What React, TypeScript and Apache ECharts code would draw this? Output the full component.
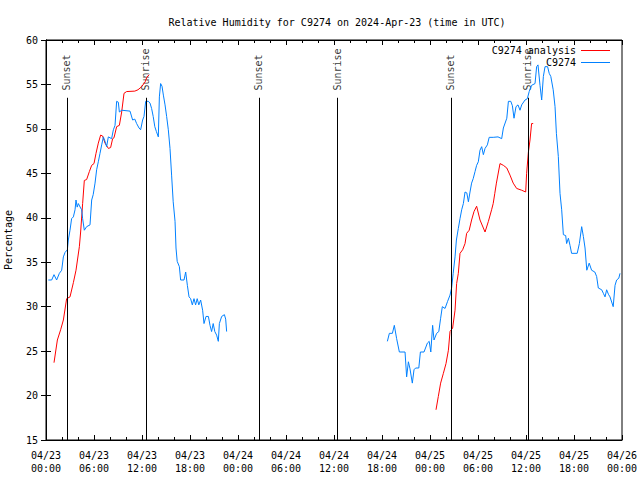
import React, { useEffect, useRef } from "react";
import * as echarts from "echarts";

// Hours since 2024-04-23 00:00 UTC
const RED_HOURS_1 = [1.0, 1.42, 1.83, 2.17, 2.58, 3.0, 3.42, 3.75, 4.17, 4.33, 4.58, 4.79, 5.08, 5.42, 5.71, 6.0, 6.25, 6.54, 6.83, 7.08, 7.38, 7.8, 8.08, 8.33, 8.5, 8.83, 9.17, 9.46, 9.75, 10.08, 11.1, 11.5, 11.96, 12.4, 12.6, 12.9];
const RED_VALUES_1 = [23.7, 26.25, 27.4, 28.5, 30.9, 31.1, 32.7, 34.1, 36.75, 38.4, 41.6, 44.2, 44.3, 45.2, 45.9, 46.1, 47.25, 48.4, 49.3, 49.2, 48.4, 47.8, 47.9, 48.9, 49.0, 50.25, 50.4, 51.9, 54.0, 54.2, 54.25, 54.4, 54.75, 55.3, 55.8, 56.1];
const RED_HOURS_2 = [48.75, 49.04, 49.33, 49.67, 50.0, 50.3, 50.5, 50.83, 51.13, 51.33, 51.54, 51.75, 52.08, 52.38, 52.58, 52.9, 53.2, 53.5, 53.83, 54.25, 54.88, 55.3, 55.7, 55.9, 56.1, 56.3, 56.75, 57.17, 57.6, 58.0, 58.4, 58.83, 59.46, 59.96, 60.08, 60.3, 60.5, 60.7, 60.9];
const RED_VALUES_2 = [18.4, 19.9, 21.4, 22.5, 23.6, 25.1, 27.2, 27.6, 29.6, 32.6, 33.75, 36.0, 36.4, 37.1, 38.25, 38.6, 39.75, 40.7, 41.3, 39.75, 38.4, 39.6, 40.9, 41.6, 42.75, 43.9, 46.1, 45.9, 45.6, 44.8, 43.9, 43.3, 43.1, 42.9, 45.0, 47.4, 48.75, 50.6, 50.6];

const BLUE_HOURS_1 = [0.29, 0.71, 1.0, 1.33, 1.67, 1.96, 2.17, 2.38, 2.67, 2.79, 3.0, 3.2, 3.42, 3.63, 3.75, 3.9, 4.04, 4.33, 4.46, 4.58, 4.79, 5.08, 5.5, 5.71, 5.9, 6.13, 6.33, 6.54, 6.75, 6.96, 7.17, 7.38, 7.58, 7.79, 8.2, 8.42, 8.63, 8.83, 9.04, 9.17, 9.46, 10.5, 10.83, 11.1, 11.33, 11.63, 11.83, 12.08, 12.25, 12.46, 12.8, 13.0, 13.2, 13.4, 13.6, 13.8, 14.04, 14.17, 14.33, 14.5, 14.67, 14.88, 15.08, 15.29, 15.5, 15.7, 15.9, 16.13, 16.25, 16.4, 16.67, 16.83, 17.25, 17.46, 17.67, 17.88, 18.08, 18.29, 18.5, 18.7, 18.9, 19.1, 19.33, 19.58, 19.75, 20.0, 20.3, 20.5, 20.7, 20.9, 21.1, 21.33, 21.54, 21.67, 21.96, 22.3, 22.46, 22.58];
const BLUE_VALUES_1 = [33.0, 33.0, 33.6, 33.0, 33.75, 34.1, 35.6, 36.1, 36.4, 37.5, 38.6, 39.9, 40.1, 40.9, 42.0, 41.2, 41.6, 41.1, 40.9, 39.9, 38.6, 39.0, 39.2, 42.0, 42.6, 43.9, 45.4, 46.3, 47.25, 48.2, 49.1, 48.6, 48.0, 49.1, 48.9, 49.9, 50.4, 53.1, 53.0, 51.9, 52.1, 52.0, 51.0, 51.1, 50.6, 50.1, 49.9, 51.0, 51.4, 53.1, 53.1, 52.9, 52.3, 51.4, 50.25, 49.7, 49.1, 53.6, 55.1, 54.8, 53.8, 52.7, 51.4, 49.9, 47.8, 44.8, 41.8, 39.6, 36.6, 35.1, 34.5, 33.0, 33.0, 33.9, 32.4, 31.1, 30.9, 30.2, 30.9, 30.2, 30.9, 30.2, 30.75, 29.6, 28.1, 28.9, 28.9, 27.9, 27.2, 28.1, 27.2, 26.8, 26.1, 28.1, 28.9, 29.1, 28.6, 27.2];
const BLUE_HOURS_2 = [42.67, 42.92, 43.3, 43.54, 43.83, 44.17, 44.88, 45.08, 45.3, 45.5, 45.79, 46.0, 46.2, 46.6, 46.8, 47.25, 47.67, 47.9, 48.1, 48.33, 48.5, 48.83, 49.1, 49.33, 49.54, 49.88, 50.2, 50.5, 50.7, 50.9, 51.13, 51.3, 51.54, 51.75, 51.96, 52.17, 52.38, 52.6, 52.8, 53.0, 53.2, 53.4, 53.63, 53.83, 54.04, 54.25, 54.46, 54.67, 54.88, 55.17, 55.4, 55.9, 56.5, 56.96, 57.17, 57.6, 57.8, 58.1, 58.3, 58.5, 58.75, 59.0, 59.25, 59.46, 59.88, 60.17, 60.4, 60.7, 61.13, 61.33, 61.5, 61.75, 61.96, 62.17, 62.38, 62.7, 62.9, 63.1, 63.4, 63.63, 63.8, 64.04, 64.25, 64.46, 64.67, 64.96, 65.08, 65.3, 65.5, 65.7, 66.4, 66.67, 66.96, 67.17, 67.38, 67.6, 67.9, 68.2, 68.6, 68.83, 69.04, 69.46, 69.67, 69.88, 70.08, 70.3, 70.5, 70.9, 71.13, 71.33, 71.6, 71.75];
const BLUE_VALUES_2 = [26.1, 27.0, 27.0, 27.9, 26.4, 24.9, 24.9, 22.1, 23.8, 23.0, 21.4, 22.9, 23.1, 23.1, 24.9, 24.9, 25.9, 26.1, 24.9, 27.9, 26.25, 27.0, 27.2, 28.7, 30.0, 29.8, 30.6, 31.3, 32.1, 33.75, 35.6, 37.5, 38.8, 39.9, 40.9, 41.6, 42.9, 42.8, 41.8, 42.9, 43.9, 44.4, 45.2, 45.9, 46.3, 47.6, 48.0, 47.1, 47.8, 48.2, 49.05, 49.05, 49.1, 48.9, 50.1, 51.2, 53.1, 53.1, 52.6, 51.2, 52.5, 52.7, 52.1, 52.7, 53.25, 53.4, 54.2, 54.9, 55.1, 57.0, 57.2, 54.9, 53.25, 55.9, 57.0, 57.0, 56.25, 55.9, 54.4, 52.5, 49.5, 46.9, 42.75, 40.9, 38.1, 38.0, 37.1, 37.7, 36.9, 36.0, 36.0, 37.1, 39.0, 37.9, 36.6, 34.1, 34.9, 34.1, 33.9, 33.4, 32.1, 31.9, 31.5, 31.1, 31.9, 31.4, 31.1, 30.0, 32.4, 33.0, 33.2, 33.75];

const SUN_HOURS = [2.65, 12.5, 26.65, 36.45, 50.65, 60.3];
const SUN_LABELS = ["Sunset", "Sunrise", "Sunset", "Sunrise", "Sunset", "Sunrise"];

const X_MIN = 0;
const X_MAX = 72;
const X_STEP = 6;
const Y_MIN = 15;
const Y_MAX = 60;
const Y_STEP = 5;
const SUN_LINE_TOP = 53.5;
const SUN_LABEL_BASE = 54.15;

const FONT = "DejaVu Sans Mono";

const zip = (h: number[], v: number[]) => h.map((x, i) => [x, v[i]]);
const joinSegments = (a: any[], b: any[]) => {
  const gap = (a[a.length - 1][0] + b[0][0]) / 2;
  return [...a, [gap, "-"], ...b];
};

const xLabel = (h: number) => {
  const day = 23 + Math.floor(h / 24);
  const hh = Math.round(h % 24);
  return `04/${day}\n${String(hh).padStart(2, "0")}:00`;
};

export default function App() {
  const ref = useRef<HTMLDivElement>(null);
  useEffect(() => {
    if (!ref.current) return;
    const chart = echarts.init(ref.current, null, { renderer: "svg" });
    const tickCommon = {
      axisLine: { show: true, lineStyle: { color: "#000", width: 1 } },
      splitLine: { show: false },
    };
    const legendCommon = {
      align: "right",
      icon: "rect",
      itemWidth: 29,
      itemHeight: 1,
      padding: 0,
      right: 30,
      textStyle: { fontFamily: FONT, fontSize: 10, color: "#000" },
    };
    chart.setOption({
      animation: false,
      backgroundColor: "#fff",
      title: {
        text: "Relative Humidity for C9274 on 2024-Apr-23 (time in UTC)",
        left: 332,
        top: 12,
        textAlign: "center",
        textStyle: { fontFamily: FONT, fontSize: 10, fontWeight: "normal", color: "#000" },
      },
      legend: [
        { ...legendCommon, data: ["C9274 analysis"], top: 45.5 },
        { ...legendCommon, data: ["C9274"], top: 57.5 },
      ],
      grid: {
        left: 46,
        right: 18,
        top: 40,
        bottom: 40,
        show: true,
        borderColor: "#000",
        borderWidth: 1,
        containLabel: false,
        outerBoundsMode: "none",
      },
      xAxis: [
        {
          type: "value",
          position: "bottom",
          min: X_MIN,
          max: X_MAX,
          interval: X_STEP,
          ...tickCommon,
          axisTick: { show: true, inside: true, length: 5, lineStyle: { color: "#000" } },
          minorTick: { show: true, splitNumber: 3, length: 3, lineStyle: { color: "#000" } },
          axisLabel: {
            formatter: xLabel,
            fontFamily: FONT,
            fontSize: 10,
            color: "#000",
            margin: 9,
            lineHeight: 13,
          },
        },
        {
          type: "value",
          position: "top",
          min: X_MIN,
          max: X_MAX,
          interval: X_STEP,
          ...tickCommon,
          axisTick: { show: true, inside: true, length: 5, lineStyle: { color: "#000" } },
          minorTick: { show: true, splitNumber: 3, length: 3, lineStyle: { color: "#000" } },
          axisLabel: { show: false },
        },
      ],
      yAxis: [
        {
          type: "value",
          position: "left",
          min: Y_MIN,
          max: Y_MAX,
          interval: Y_STEP,
          ...tickCommon,
          axisTick: { show: true, inside: true, length: 5, lineStyle: { color: "#000" } },
          axisLabel: { fontFamily: FONT, fontSize: 10, color: "#000", margin: 8 },
          name: "Percentage",
          nameLocation: "middle",
          nameRotate: 90,
          nameGap: 33,
          nameTextStyle: { fontFamily: FONT, fontSize: 10, color: "#000" },
        },
        {
          type: "value",
          position: "right",
          min: Y_MIN,
          max: Y_MAX,
          interval: Y_STEP,
          ...tickCommon,
          axisTick: { show: true, inside: true, length: 5, lineStyle: { color: "#000" } },
          axisLabel: { show: false },
        },
      ],
      series: [
        {
          name: "sun",
          type: "scatter",
          symbolSize: 1,
          itemStyle: { color: "rgba(0,0,0,0)" },
          silent: true,
          data: SUN_HOURS.map((h) => [h, SUN_LABEL_BASE]),
          label: {
            show: true,
            position: [0, 0],
            rotate: 90,
            align: "left",
            verticalAlign: "middle",
            offset: [1, 0],
            fontFamily: FONT,
            fontSize: 10,
            color: "#000",
            formatter: (p: any) => SUN_LABELS[p.dataIndex],
          },
          markLine: {
            silent: true,
            symbol: ["none", "none"],
            label: { show: false },
            lineStyle: { color: "#000", width: 1, type: "solid" },
            data: SUN_HOURS.map((h) => [{ coord: [h, Y_MIN] }, { coord: [h, SUN_LINE_TOP] }]),
          },
          z: 1,
        },
        {
          name: "C9274 analysis",
          type: "line",
          symbol: "none",
          connectNulls: false,
          lineStyle: { color: "#ff0000", width: 1 },
          itemStyle: { color: "#ff0000" },
          data: joinSegments(zip(RED_HOURS_1, RED_VALUES_1), zip(RED_HOURS_2, RED_VALUES_2)),
          z: 2,
        },
        {
          name: "C9274",
          type: "line",
          symbol: "none",
          connectNulls: false,
          lineStyle: { color: "#0080ff", width: 1 },
          itemStyle: { color: "#0080ff" },
          data: joinSegments(zip(BLUE_HOURS_1, BLUE_VALUES_1), zip(BLUE_HOURS_2, BLUE_VALUES_2)),
          z: 3,
        },
      ],
    });
    return () => chart.dispose();
  }, []);
  return (
    <div
      ref={ref}
      style={{ position: "absolute", left: 0, top: 0, width: 640, height: 480, background: "#fff" }}
    />
  );
}
